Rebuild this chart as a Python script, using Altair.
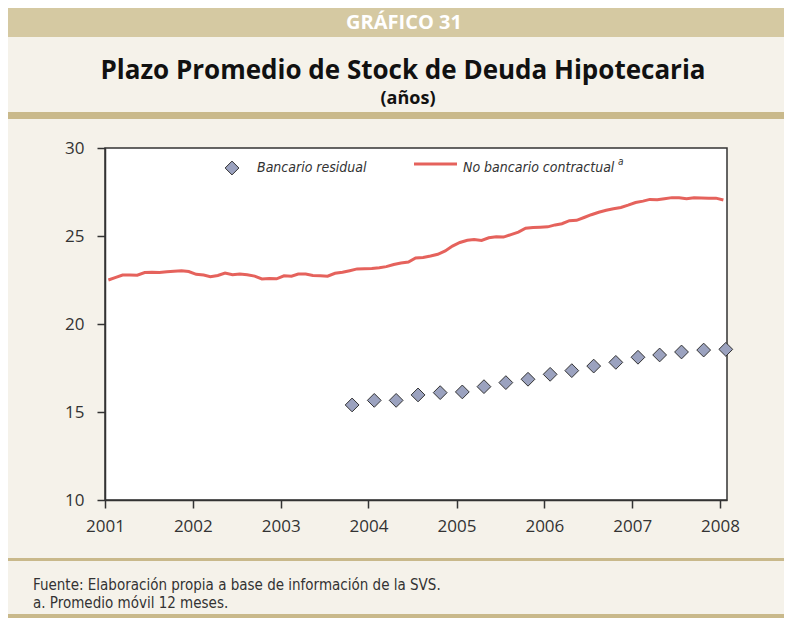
import altair as alt
import pandas as pd

# ---- data ----
line_values = [
    22.50, 22.65, 22.78, 22.78, 22.77, 22.92, 22.94, 22.92, 22.97, 23.00, 23.03, 22.98,  # 2001
    22.82, 22.78, 22.69, 22.76, 22.90, 22.80, 22.84, 22.80, 22.72, 22.56, 22.58, 22.57,  # 2002
    22.74, 22.72, 22.84, 22.84, 22.76, 22.74, 22.72, 22.88, 22.94, 23.03, 23.13, 23.14,  # 2003
    23.15, 23.20, 23.26, 23.38, 23.47, 23.52, 23.75, 23.78, 23.86, 23.96, 24.15, 24.43,  # 2004
    24.63, 24.76, 24.80, 24.75, 24.90, 24.96, 24.94, 25.08, 25.22, 25.44, 25.48, 25.50,  # 2005
    25.52, 25.63, 25.70, 25.87, 25.89, 26.05, 26.21, 26.35, 26.46, 26.55, 26.62, 26.75,  # 2006
    26.90, 26.98, 27.08, 27.06, 27.12, 27.18, 27.17, 27.12, 27.17, 27.16, 27.15, 27.15,  # 2007
    27.05,                                                                               # 2008
]
line_dates = [f"{2001 + i // 12}-{i % 12 + 1:02d}-15" for i in range(len(line_values))]

diamond_values = [15.40, 15.66, 15.66, 15.97, 16.10, 16.14, 16.44, 16.67, 16.86,
                  17.14, 17.35, 17.61, 17.82, 18.11, 18.24, 18.41, 18.52, 18.56]
diamond_dates = ["2003-10-25",
                 "2004-01-25", "2004-04-25", "2004-07-25", "2004-10-25",
                 "2005-01-25", "2005-04-25", "2005-07-25", "2005-10-25",
                 "2006-01-25", "2006-04-25", "2006-07-25", "2006-10-25",
                 "2007-01-25", "2007-04-25", "2007-07-25", "2007-10-25",
                 "2008-01-25"]

x_tick_years = [2001, 2002, 2003, 2004, 2005, 2006, 2007, 2008]
y_ticks = [10, 15, 20, 25, 30]

series_line = "No bancario contractual"
series_diamond = "Bancario residual"

# ---- styling ----
CREAM = "#F5F2EA"
BAND = "#D5C9A2"
RULE = "#C9B98B"
LINE_COLOR = "#E5625C"
DIAMOND_FILL = "#9BA2BF"
DARK = "#333333"
NARROW = "DejaVu Sans Condensed, sans-serif"

W, H = 622, 352
PAD_L, PAD_T = 97, 140
TOTAL_W, TOTAL_H = 776, 610
PAD_R = TOTAL_W - PAD_L - W
PAD_B = TOTAL_H - PAD_T - H

line_df = pd.DataFrame({"date": line_dates, "v": line_values, "s": series_line})
dia_df = pd.DataFrame({"date": diamond_dates, "v": diamond_values, "s": series_diamond})
one = pd.DataFrame({"k": [0]})

x_scale = alt.Scale(
    type="utc",
    domain=[alt.DateTime(year=2001, month=1, date=1, utc=True),
            alt.DateTime(year=2008, month=1, date=30, utc=True)],
)
y_scale = alt.Scale(domain=[10, 30], nice=False, zero=False)

x_axis = alt.Axis(
    values=[alt.DateTime(year=y, month=1, date=1, utc=True) for y in x_tick_years],
    format="%Y", title=None, grid=False, labelPadding=10, tickSize=8,
    labelAngle=0, labelAlign="center",
)
y_axis = alt.Axis(values=y_ticks, title=None, grid=False, labelPadding=13, tickSize=8)

X = alt.X("date:T", scale=x_scale, axis=x_axis)
Y = alt.Y("v:Q", scale=y_scale, axis=y_axis)

line = alt.Chart(line_df).mark_line(color=LINE_COLOR, strokeWidth=3).encode(x=X, y=Y)
dia = alt.Chart(dia_df).mark_point(
    shape="diamond", filled=True, size=190, fill=DIAMOND_FILL, stroke=DARK,
    strokeWidth=1, opacity=1,
).encode(x=X, y=Y)


def rect(x1, x2, y1, y2, color):
    return alt.Chart(one).mark_rect(color=color).encode(
        x=alt.value(x1), x2=alt.value(x2), y=alt.value(y1), y2=alt.value(y2))


def text(t, x, y, **kw):
    return alt.Chart(one).mark_text(text=t, **kw).encode(x=alt.value(x), y=alt.value(y))


left_edge = -PAD_L
right_edge = W + PAD_R

decor = [
    rect(left_edge, right_edge, -PAD_T, -111, BAND),
    rect(left_edge, right_edge, -36, -29, RULE),
    rect(left_edge, right_edge, 410, 413, RULE),
    rect(left_edge, right_edge, 466, 470, RULE),
    text("GRÁFICO 31", 299, -119, font="Open Sans", fontSize=20, fontWeight="bold",
         color="white", align="center", baseline="alphabetic"),
    text("Plazo Promedio de Stock de Deuda Hipotecaria", 298, -69, font="Open Sans",
         fontSize=26, fontWeight="bold", color="#111111", align="center", baseline="alphabetic"),
    text("(años)", 303, -44, font="Open Sans", fontSize=18, fontWeight="bold",
         color="#111111", align="center", baseline="alphabetic"),
    text("Fuente: Elaboración propia a base de información de la SVS.", -72, 442,
         font=NARROW, fontSize=15, color=DARK, align="left", baseline="alphabetic"),
    text("a. Promedio móvil 12 meses.", -72, 460,
         font=NARROW, fontSize=15, color=DARK, align="left", baseline="alphabetic"),
]

leg_dia = alt.Chart(one).mark_point(
    shape="diamond", filled=True, size=190, fill=DIAMOND_FILL, stroke=DARK,
    strokeWidth=1, opacity=1,
).encode(x=alt.value(127), y=alt.value(20))
leg_line = alt.Chart(one).mark_rule(color=LINE_COLOR, strokeWidth=3).encode(
    x=alt.value(309), x2=alt.value(352), y=alt.value(16))
legend = [
    leg_dia,
    text(series_diamond, 152, 24, font=NARROW, fontSize=14, fontStyle="italic",
         color=DARK, align="left", baseline="alphabetic"),
    leg_line,
    text(series_line, 358, 24, font=NARROW, fontSize=14, fontStyle="italic",
         color=DARK, align="left", baseline="alphabetic"),
    text("a", 513, 14, font=NARROW, fontSize=10, fontStyle="italic",
         color=DARK, align="left", baseline="middle"),
]

chart = alt.layer(*decor, line, dia, *legend).properties(
    width=W, height=H,
    padding={"left": PAD_L, "top": PAD_T, "right": PAD_R, "bottom": PAD_B},
    autosize=alt.AutoSizeParams(type="none"),
    background=CREAM,
).configure_view(
    fill="white", stroke=DARK, strokeWidth=1.5,
).configure_axis(
    domainColor=DARK, domainWidth=1.5, tickColor=DARK, tickWidth=1.5,
    labelFont="Open Sans", labelFontSize=17, labelColor=DARK,
)

chart.save("out.html", embed_options={"renderer": "svg", "actions": False})
